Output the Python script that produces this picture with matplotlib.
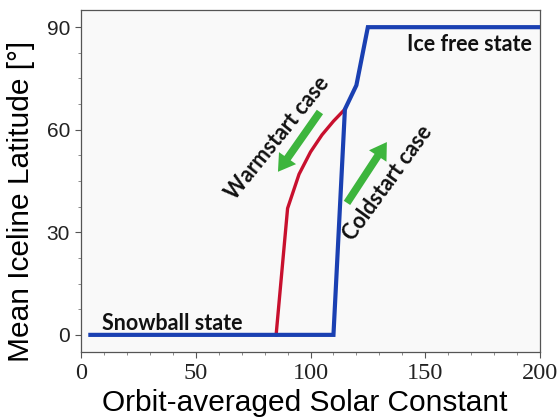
import matplotlib
matplotlib.use("Agg")
import matplotlib.pyplot as plt
from matplotlib.ticker import MultipleLocator

# coldstart branch (blue): snowball until ~110, then jumps to ice free
cold_S = [4, 110, 115, 120, 125, 200]
cold_lat = [0, 0, 66, 73, 90, 90]

# warmstart branch (red): stays partly ice covered down to ~85
warm_S = [85, 90, 95, 100, 105, 110, 115]
warm_lat = [0, 37, 47, 53.5, 58.5, 62.5, 66]

x_ticks = [0, 50, 100, 150, 200]
y_ticks = [0, 30, 60, 90]

blue = "#1a40b2"
red = "#c8102e"
green = "#3db53d"
ann_font = ["Lato", "DejaVu Sans"]

fig = plt.figure(figsize=(5.6, 4.2), dpi=100)
ax = fig.add_axes([0.145, 0.162, 0.819, 0.814])
ax.set_facecolor("#f9f9f9")

ax.plot(warm_S, warm_lat, color=red, lw=2.4, solid_joinstyle="miter", zorder=3)
ax.plot(cold_S, cold_lat, color=blue, lw=3, solid_joinstyle="miter", zorder=4)

ax.set_xlim(0, 200)
ax.set_ylim(-5, 95)
ax.set_xticks(x_ticks)
ax.set_yticks(y_ticks)
ax.xaxis.set_minor_locator(MultipleLocator(10))
ax.yaxis.set_minor_locator(MultipleLocator(7.5))
ax.tick_params(which="major", direction="out", length=4, width=0.8, colors="#555555", pad=4)
ax.tick_params(which="minor", direction="out", length=2, width=0.6, colors="#777777")
for lab in ax.get_xticklabels():
    lab.set_family("Liberation Serif")
    lab.set_fontsize(17.5)
    lab.set_color("#222222")
for lab in ax.get_yticklabels():
    lab.set_family("Liberation Sans")
    lab.set_fontsize(15)
    lab.set_color("#222222")
for sp in ax.spines.values():
    sp.set_color("#555555")
    sp.set_linewidth(0.9)

ax.set_xlabel("Orbit-averaged Solar Constant", family="Liberation Sans", fontsize=21.5,
              va="baseline")
ax.set_ylabel("Mean Iceline Latitude [°]", family="Liberation Sans", fontsize=21.5)
ax.xaxis.set_label_coords(0.488, -0.172)
ax.yaxis.set_label_coords(-0.1, 0.44)

# state labels
ax.text(196.5, 85, "Ice free state", family=ann_font, fontweight="bold", fontsize=15.5,
        ha="right", va="center", color="#111111")
ax.text(9, 3.3, "Snowball state", family=ann_font, fontweight="bold", fontsize=15.5,
        ha="left", va="center", color="#111111")
ax.text(85.5, 57.5, "Warmstart case", family=ann_font, fontweight="bold", fontsize=15.5,
        ha="center", va="center", rotation=51, rotation_mode="anchor", color="#111111")
ax.text(133.5, 44.5, "Coldstart case", family=ann_font, fontweight="bold", fontsize=15.5,
        ha="center", va="center", rotation=54, rotation_mode="anchor", color="#111111")

# direction arrows for the two branches
arrow = dict(width=5.5, headwidth=15, headlength=12, color=green, lw=0)
ax.annotate("", xy=(85.8, 47.7), xytext=(104.1, 65.2), arrowprops=arrow)
ax.annotate("", xy=(133.3, 56.4), xytext=(115.9, 38.6), arrowprops=arrow)

fig.savefig("out.png", dpi=100)
